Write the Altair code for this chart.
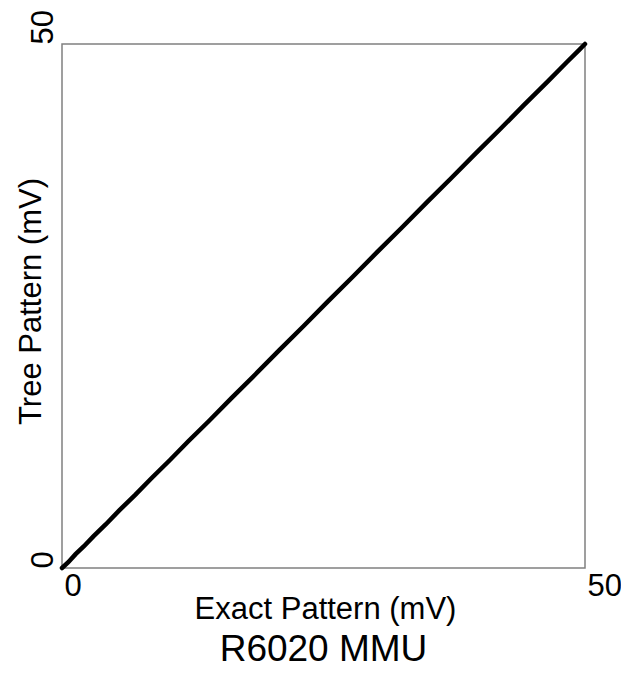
import altair as alt
import pandas as pd

exact_mv = [0.0, 0.6, 1.3, 2.1, 3.0, 4.2, 5.5, 7.0, 8.6, 10.3, 12.1, 14.0, 16.2, 18.5, 20.8,
            23.1, 25.4, 27.8, 30.1, 32.5, 34.9, 37.2, 39.6, 41.9, 44.2, 46.4, 48.3, 49.4, 50.0]
tree_mv = [0.0, 0.55, 1.32, 2.08, 3.02, 4.18, 5.52, 6.98, 8.61, 10.28, 12.12, 13.98, 16.21, 18.49, 20.81,
           23.09, 25.41, 27.79, 30.11, 32.49, 34.91, 37.19, 39.61, 41.89, 44.21, 46.39, 48.31, 49.39, 50.0]

df = pd.DataFrame({"exact": exact_mv, "tree": tree_mv})

FONT = "Liberation Sans"

chart = alt.Chart(df).mark_line(color="black", strokeWidth=4.5, strokeCap="round").encode(
    x=alt.X("exact:Q",
            scale=alt.Scale(domain=[0, 50], nice=False, zero=False),
            axis=alt.Axis(values=[0, 50], title="Exact Pattern (mV)", grid=False, domain=False,
                          ticks=False, labelFontSize=31, labelFont=FONT, labelColor="black",
                          labelAlign="left", labelBaseline="top", labelPadding=3,
                          labelOffset=2,
                          labelFlush=False, labelOverlap=False,
                          titleFont=FONT, titleFontSize=31, titleFontWeight="normal",
                          titleColor="black", titleX=263, titleY=50,
                          titleBaseline="alphabetic", titleAlign="center")),
    y=alt.Y("tree:Q",
            scale=alt.Scale(domain=[0, 50], nice=False, zero=False),
            axis=alt.Axis(values=[0, 50], title="Tree Pattern (mV)", grid=False, domain=False,
                          ticks=False, labelFontSize=31, labelFont=FONT, labelColor="black",
                          labelAngle=270, labelAlign="left", labelBaseline="alphabetic",
                          labelPadding=10, labelFlush=False, labelOverlap=False,
                          titleFont=FONT, titleFontSize=31, titleFontWeight="normal",
                          titleColor="black", titleAngle=270, titleX=-22, titleY=257,
                          titleBaseline="alphabetic", titleAlign="center")),
).properties(
    width=523,
    height=524,
    title=alt.TitleParams("R6020 MMU", orient="bottom", anchor="middle", fontSize=37,
                          font=FONT, fontWeight="normal", color="black", offset=8),
    autosize=alt.AutoSizeParams(type="none"),
    padding={"left": 54, "top": 36, "right": 36, "bottom": 105},
    background="white",
).configure_view(
    stroke="#808080", strokeWidth=1.5
)

chart.save("out.html", embed_options={"renderer": "svg", "actions": False})
